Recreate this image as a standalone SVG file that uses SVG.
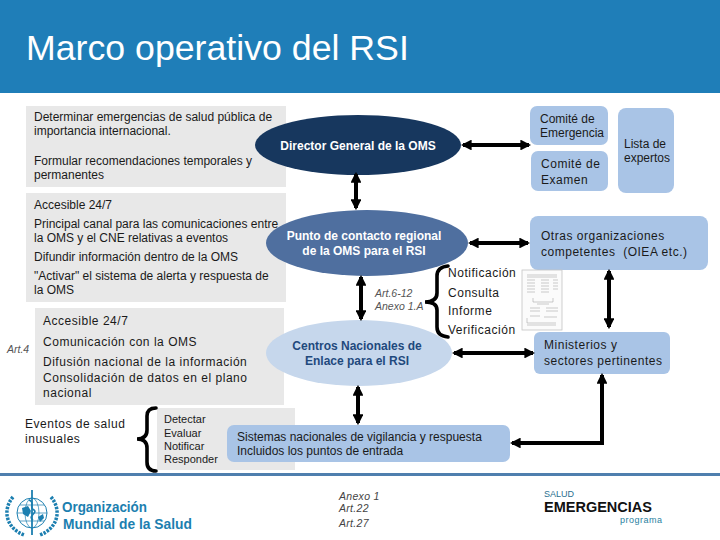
<svg xmlns="http://www.w3.org/2000/svg" width="720" height="540" viewBox="0 0 720 540">
<style>
text{font-family:"Liberation Sans",Arial,sans-serif;fill:#1a1a1a;font-size:12px;white-space:pre}
.g{fill:#e8e8e8}
.b{fill:#a9c4e6}
.w{fill:#fff;font-weight:bold;font-size:12px}
.n{fill:#1f497d;font-weight:bold;font-size:12px}
.i{font-style:italic;font-size:10.5px;fill:#555}
.l{font-size:12px;letter-spacing:.52px}
.s{font-size:11px}
.a{font-style:italic;font-size:10.5px;fill:#444;letter-spacing:.3px}
.c{stroke:#000;stroke-width:4;fill:none}
.br{stroke:#000;stroke-width:3.6;fill:none;stroke-linecap:round}
.d{stroke:#aaa;stroke-width:.6;fill:none}
.lg{font-weight:bold;font-size:15px;fill:#1c7fb0}
</style>
<defs>
<marker id="a" viewBox="0 0 10 10" refX="8" refY="5" markerWidth="2.7" markerHeight="2.7" orient="auto-start-reverse"><path d="M0 0L10 5L0 10Z" fill="#000"/></marker>
</defs>
<rect width="720" height="93" fill="#1f7eb8"/>
<text x="26" y="60" style="fill:#fff;font-size:35.7px">Marco operativo del RSI</text>
<rect y="473" width="720" height="3" fill="#4f7fae"/>

<g id="gray-panels">
<rect class="g" x="26" y="106" width="260" height="81"/>
<rect class="g" x="26" y="193" width="260" height="109"/>
<rect class="g" x="35" y="308" width="249" height="97"/>
<rect class="g" x="157" y="408" width="138" height="62"/>
</g>
<g id="panel-dg">
<text x="34" y="121">Determinar emergencias de salud pública de</text>
<text x="34" y="135">importancia internacional.</text>
<text x="34" y="165">Formular recomendaciones temporales y</text>
<text x="34" y="179">permanentes</text>
</g>
<g id="panel-punto">
<text x="34" y="209">Accesible 24/7</text>
<text x="34" y="228">Principal canal para las comunicaciones entre</text>
<text x="34" y="242">la OMS y el CNE relativas a eventos</text>
<text x="34" y="261">Difundir información dentro de la OMS</text>
<text x="34" y="280">"Activar" el sistema de alerta y respuesta de</text>
<text x="34" y="294">la OMS</text>
</g>
<g id="panel-cne">
<text class="l" x="43" y="325">Accesible 24/7</text>
<text class="l" x="43" y="346">Comunicación con la OMS</text>
<text class="l" x="43" y="366">Difusión nacional de la información</text>
<text class="l" x="43" y="382">Consolidación de datos en el plano</text>
<text class="l" x="43" y="397">nacional</text>
</g>
<text class="i" x="7" y="353">Art.4</text>
<g id="eventos">
<text class="l" x="25" y="428">Eventos de salud</text>
<text class="l" x="25" y="443">inusuales</text>
</g>
<g id="panel-detectar">
<text class="s" x="164" y="423">Detectar</text>
<text class="s" x="164" y="437">Evaluar</text>
<text class="s" x="164" y="450">Notificar</text>
<text class="s" x="164" y="463">Responder</text>
</g>

<g id="director"><ellipse cx="358" cy="145" rx="103" ry="30" fill="#17375e"/>
<text class="w" x="358" y="150" text-anchor="middle">Director General de la OMS</text></g>
<g id="punto"><ellipse cx="367" cy="243" rx="101" ry="33" fill="#4f6f9f"/>
<text class="w" x="364" y="240" text-anchor="middle">Punto de contacto regional</text>
<text class="w" x="364" y="255" text-anchor="middle">de la OMS para el RSI</text></g>
<g id="centros"><ellipse cx="359" cy="353" rx="93" ry="33" fill="#c6d7ec"/>
<text class="n" x="357" y="350" text-anchor="middle">Centros Nacionales de</text>
<text class="n" x="357" y="365" text-anchor="middle">Enlace para el RSI</text></g>

<g id="emergencia"><rect class="b" x="530" y="106" width="78" height="39" rx="7"/>
<text x="540" y="123">Comité de</text><text x="540" y="137">Emergencia</text></g>
<g id="examen"><rect class="b" x="531" y="151" width="77" height="40" rx="7"/>
<text class="l" x="541" y="168">Comité de</text><text class="l" x="541" y="184">Examen</text></g>
<g id="lista"><rect class="b" x="618" y="108" width="56" height="85" rx="8"/>
<text x="624" y="148">Lista de</text><text x="624" y="162">expertos</text></g>
<g id="otras"><rect class="b" x="530" y="216" width="178" height="54" rx="8"/>
<text class="l" x="541" y="240">Otras organizaciones</text><text class="l" x="541" y="256">competentes  (OIEA etc.)</text></g>
<g id="ministerios"><rect class="b" x="534" y="332" width="136" height="42" rx="6"/>
<text class="l" x="544" y="349">Ministerios y</text><text class="l" x="544" y="365">sectores pertinentes</text></g>
<g id="sistemas"><rect class="b" x="227" y="425" width="283" height="37" rx="7"/>
<text x="237" y="441">Sistemas nacionales de vigilancia y respuesta</text><text x="237" y="455">Incluidos los puntos de entrada</text></g>

<g id="connectors">
<path class="c" d="M356 174V208" marker-start="url(#a)" marker-end="url(#a)"/>
<path class="c" d="M361 277V319" marker-start="url(#a)" marker-end="url(#a)"/>
<path class="c" d="M358 387V423" marker-start="url(#a)" marker-end="url(#a)"/>
<path class="c" d="M463 145H529" marker-start="url(#a)" marker-end="url(#a)"/>
<path class="c" d="M470 243H528" marker-start="url(#a)" marker-end="url(#a)"/>
<path class="c" d="M609 271V327" marker-start="url(#a)" marker-end="url(#a)"/>
<path class="c" d="M454 353H533" marker-start="url(#a)" marker-end="url(#a)"/>
<path class="c" d="M512 443H602V375" marker-start="url(#a)" marker-end="url(#a)"/>
<path class="br" d="M448 266Q437 267 437 276V293Q437 302 425 302Q437 302 437 310V327Q437 336 448 337"/>
<path class="br" d="M156 408Q147 408 147 416V430Q147 439 137 439Q147 439 147 448V462Q147 471 156 471"/>
</g>

<text class="i" x="375" y="297">Art.6-12</text>
<text class="i" x="375" y="310">Anexo 1.A</text>
<g id="pasos">
<text class="l" x="448" y="277">Notificación</text>
<text class="l" x="448" y="297">Consulta</text>
<text class="l" x="448" y="315">Informe</text>
<text class="l" x="448" y="334">Verificación</text>
</g>
<g id="documento">
<rect x="522" y="270" width="40" height="60" fill="#fbfbfb" stroke="#c4c4c4" stroke-width=".8"/>
<path class="d" d="M527 275H557M527 277H557M527 280H535M541 280H549M553 280H558M527 283H535M541 283H549M553 283H558M527 286H535M541 286H549M553 286H558M527 289H535M541 289H549M553 289H558M527 292H535M541 292H549M533 298V302H553V298M537 304H549M530 308H540M546 308H558M530 311H540M546 311H558M527 318V323H556M530 316H540M544 317H557M527 325H556"/>
</g>
<g id="anexos">
<text class="a" x="339" y="500">Anexo 1</text>
<text class="a" x="339" y="512">Art.22</text>
<text class="a" x="339" y="527">Art.27</text>
</g>
<g id="logo-oms">
<g fill="none" stroke="#1c7fb0">
<circle cx="32" cy="513" r="15" stroke-width="1"/>
<ellipse cx="32" cy="513" rx="7" ry="15" stroke-width=".7"/>
<path d="M17 513H47M20 505H44M20 521H44" stroke-width=".7"/>
<path d="M32 490V535" stroke-width="1.8"/>
<path d="M29 500C36 503 28 507 34 510C38 513 27 516 33 520" stroke-width="1.6"/>
<path d="M13 497C2 510 6 528 24 535M51 497C62 510 58 528 40 535" stroke-width="3.5" stroke-dasharray="2.5 1.2"/>
</g>
<path d="M22 508l6-2 3 5-3 6-5-3zM38 517l5-3 1 4-4 4z" fill="#1c7fb0"/>
<text class="lg" x="62" y="512" textLength="85" lengthAdjust="spacingAndGlyphs">Organización</text>
<text class="lg" x="63" y="529" textLength="129" lengthAdjust="spacingAndGlyphs">Mundial de la Salud</text>
</g>
<g id="logo-emergencias">
<text x="544" y="497" style="font-size:9px;fill:#2a6f8f">SALUD</text>
<text x="544" y="512" style="font-weight:bold;font-size:14px;fill:#111" textLength="108" lengthAdjust="spacingAndGlyphs">EMERGENCIAS</text>
<text x="620" y="523" style="font-size:9px;fill:#2a7f9f;letter-spacing:.5px">programa</text>
</g>
</svg>
